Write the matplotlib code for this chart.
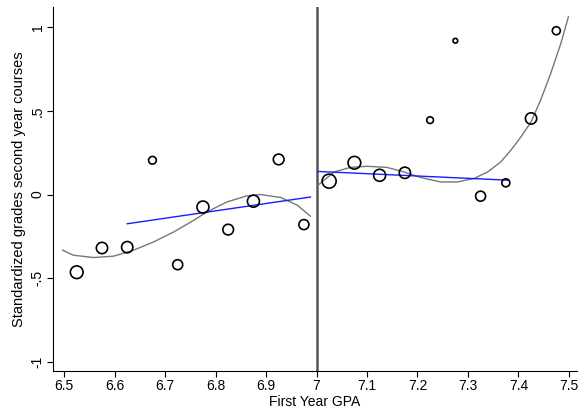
import matplotlib
matplotlib.use("Agg")
import matplotlib.pyplot as plt

plt.rcParams["font.family"] = ["Liberation Sans", "DejaVu Sans"]

# binned means, left and right of the 7.0 cutoff
bin_x = [6.525, 6.575, 6.625, 6.675, 6.725, 6.775, 6.825, 6.875, 6.925, 6.975,
         7.025, 7.075, 7.125, 7.175, 7.225, 7.275, 7.325, 7.375, 7.425, 7.475]
bin_y = [-0.465, -0.32, -0.315, 0.205, -0.42, -0.075, -0.21, -0.04, 0.21, -0.18,
         0.08, 0.19, 0.115, 0.13, 0.445, 0.92, -0.01, 0.07, 0.455, 0.98]
# marker diameter in pixels (bin size)
bin_d = [12.7, 11.3, 11.3, 7.7, 10.0, 12.0, 10.7, 12.0, 10.7, 10.0,
         14.0, 12.7, 12.0, 11.3, 6.7, 4.7, 10.0, 8.0, 11.3, 8.0]

# polynomial fit
poly_left_x = [6.497, 6.518, 6.558, 6.598, 6.637, 6.677, 6.717, 6.757, 6.783,
               6.823, 6.862, 6.889, 6.929, 6.962, 6.988]
poly_left_y = [-0.333, -0.363, -0.377, -0.369, -0.334, -0.284, -0.224, -0.154,
               -0.104, -0.044, -0.008, 0.0, -0.018, -0.064, -0.130]
poly_right_x = [7.003, 7.035, 7.067, 7.10, 7.14, 7.173, 7.206, 7.246, 7.279,
                7.312, 7.339, 7.365, 7.385, 7.405, 7.425, 7.444, 7.464, 7.484, 7.499]
poly_right_y = [0.056, 0.135, 0.162, 0.169, 0.162, 0.135, 0.102, 0.075, 0.075,
                0.096, 0.135, 0.195, 0.265, 0.345, 0.435, 0.565, 0.725, 0.904, 1.063]

# local linear fits
lin_left_x = [6.625, 6.988]
lin_left_y = [-0.175, -0.015]
lin_right_x = [7.003, 7.378]
lin_right_y = [0.138, 0.086]

cutoff = 7.0
xticks = [6.5, 6.6, 6.7, 6.8, 6.9, 7.0, 7.1, 7.2, 7.3, 7.4, 7.5]
xtick_labels = ["6.5", "6.6", "6.7", "6.8", "6.9", "7", "7.1", "7.2", "7.3", "7.4", "7.5"]
yticks = [-1, -0.5, 0, 0.5, 1]
ytick_labels = ["-1", "-.5", "0", ".5", "1"]

fig = plt.figure(figsize=(5.81, 4.16), dpi=100)
ax = fig.add_axes([53 / 581, 45 / 416, 524 / 581, 364 / 416])

ax.plot(poly_left_x, poly_left_y, color="#777777", lw=1.0, zorder=2)
ax.plot(poly_right_x, poly_right_y, color="#777777", lw=1.0, zorder=2)
ax.plot(lin_left_x, lin_left_y, color="#1a1aff", lw=1.0, zorder=2)
ax.plot(lin_right_x, lin_right_y, color="#1a1aff", lw=1.0, zorder=2)

sizes = [(d * 0.72) ** 2 for d in bin_d]
ax.scatter(bin_x, bin_y, s=sizes, facecolors="none", edgecolors="black",
           linewidths=1.2, zorder=3)

ax.axvline(cutoff, color="#555555", lw=1.8, zorder=1)

ax.set_xlim(6.478, 7.516)
ax.set_ylim(-1.056, 1.122)
ax.set_xticks(xticks)
ax.set_xticklabels(xtick_labels)
ax.set_yticks(yticks)
ax.set_yticklabels(ytick_labels, rotation=90, va="center")

for side in ["top", "right"]:
    ax.spines[side].set_visible(False)
for side in ["left", "bottom"]:
    ax.spines[side].set_linewidth(0.8)
ax.tick_params(direction="out", length=4, width=0.8, labelsize=10, pad=2)

ax.set_xlabel("First Year GPA", fontsize=10, labelpad=1)
ax.set_ylabel("Standardized grades second year courses", fontsize=10.5, labelpad=3)

fig.savefig("out.png", dpi=100)
